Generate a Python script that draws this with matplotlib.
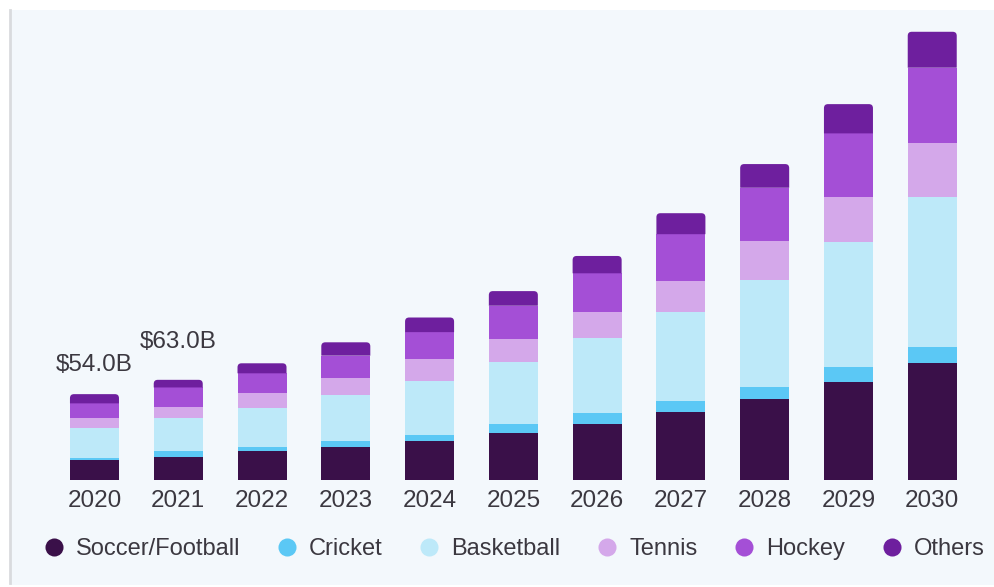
import matplotlib
matplotlib.use("Agg")
import matplotlib.pyplot as plt
import numpy as np
from matplotlib.patches import PathPatch, Rectangle
from matplotlib.path import Path
from matplotlib.lines import Line2D

plt.rcParams['font.family'] = ['Liberation Sans', 'DejaVu Sans']

# Market size by sport, USD billions
years = ["2020", "2021", "2022", "2023", "2024", "2025",
         "2026", "2027", "2028", "2029", "2030"]
soccer = [12.6, 14.7, 18.4, 20.8, 24.5, 29.7, 35.0, 43.0, 51.1, 61.4, 73.4]
cricket = [1.4, 3.8, 2.5, 3.8, 3.8, 5.3, 6.9, 6.7, 7.2, 9.4, 10.4]
basketball = [18.5, 20.8, 24.5, 28.9, 34.2, 39.4, 47.5, 56.2, 67.5, 79.0, 94.0]
tennis = [6.3, 6.3, 9.1, 10.9, 13.5, 14.3, 16.4, 19.5, 24.5, 27.9, 34.0]
hockey = [9.4, 12.6, 12.6, 13.8, 17.0, 20.9, 24.2, 29.2, 33.5, 40.3, 47.5]
others = [5.8, 4.8, 6.3, 8.4, 9.2, 9.2, 10.9, 13.2, 14.9, 18.4, 22.6]

series_names = ["Soccer/Football", "Cricket", "Basketball", "Tennis", "Hockey", "Others"]
series_values = [soccer, cricket, basketball, tennis, hockey, others]
series_colors = ["#3a1049", "#5bc8f5", "#bde9f9", "#d4a8ea", "#a44fd6", "#6e1f9e"]

value_labels = {0: "$54.0B", 1: "$63.0B"}
label_offsets = {0: 21, 1: 27.5}

W, H = 995, 587
fig = plt.figure(figsize=(W / 100, H / 100), dpi=100)
fig.patch.set_facecolor("white")

# light card background with a thin grey left edge
fig.add_artist(Rectangle((10 / W, 2 / H), (W - 10) / W, 575 / H,
                         transform=fig.transFigure, facecolor="#f3f8fc",
                         edgecolor="none", zorder=0))
fig.add_artist(Line2D([10.5 / W, 10.5 / W], [4 / H, 577 / H],
                      transform=fig.transFigure, color="#d9dbde", lw=2.0, zorder=1))

x = np.arange(len(years))
xmin, xmax = -0.6, 10.6
ymax = 290
L_px, R_px = 44.2, 982.5
base_px, px_per_unit = 480, 1.59
ax = fig.add_axes([L_px / W, (H - base_px) / H, (R_px - L_px) / W,
                   ymax * px_per_unit / H])
ax.set_facecolor("none")
ax.set_xlim(xmin, xmax)
ax.set_ylim(0, ymax)

width = 0.585
px_x = (R_px - L_px) / (xmax - xmin)
r_px = 4.0
rx, ry = r_px / px_x, r_px / px_per_unit


def top_rounded(x0, b, w, h):
    """Bar outline with rounded upper corners, in data coordinates."""
    x1, t = x0 + w, b + h
    verts = [(x0, b), (x1, b), (x1, t - ry), (x1, t), (x1 - rx, t),
             (x0 + rx, t), (x0, t), (x0, t - ry), (x0, b)]
    codes = [Path.MOVETO, Path.LINETO, Path.LINETO, Path.CURVE3, Path.CURVE3,
             Path.LINETO, Path.CURVE3, Path.CURVE3, Path.CLOSEPOLY]
    return Path(verts, codes)


bottoms = np.zeros(len(years))
for si, (name, vals, col) in enumerate(zip(series_names, series_values, series_colors)):
    vals = np.array(vals)
    if si < len(series_names) - 1:
        ax.bar(x, vals, width=width, bottom=bottoms, color=col,
               edgecolor="none", linewidth=0, zorder=2)
    else:
        for xi, b, h in zip(x, bottoms, vals):
            ax.add_patch(PathPatch(top_rounded(xi - width / 2, b, width, h),
                                   facecolor=col, edgecolor="none", zorder=2))
    bottoms = bottoms + vals

totals = bottoms
for i, txt in value_labels.items():
    ax.annotate(txt, (x[i], totals[i]), xytext=(0, label_offsets[i]),
                textcoords="offset points", ha="center", va="center",
                fontsize=17.5, color="#3b3840")

ax.set_xticks(x, years)
ax.tick_params(axis="x", length=0, pad=7, labelsize=17.5, labelcolor="#3b3840")
ax.set_yticks([])
for s in ax.spines.values():
    s.set_visible(False)

handles = [Line2D([], [], marker="o", linestyle="none", markersize=13,
                  markerfacecolor=c, markeredgecolor="none") for c in series_colors]
fig.legend(handles, series_names, ncol=6, loc="center",
           bbox_to_anchor=(514.5 / W, (H - 549) / H), frameon=False,
           fontsize=17, handlelength=0.8, handletextpad=0.53,
           columnspacing=1.58, labelcolor="#3b3840", borderpad=0, borderaxespad=0)

fig.savefig("out.png", dpi=100, facecolor="white")
